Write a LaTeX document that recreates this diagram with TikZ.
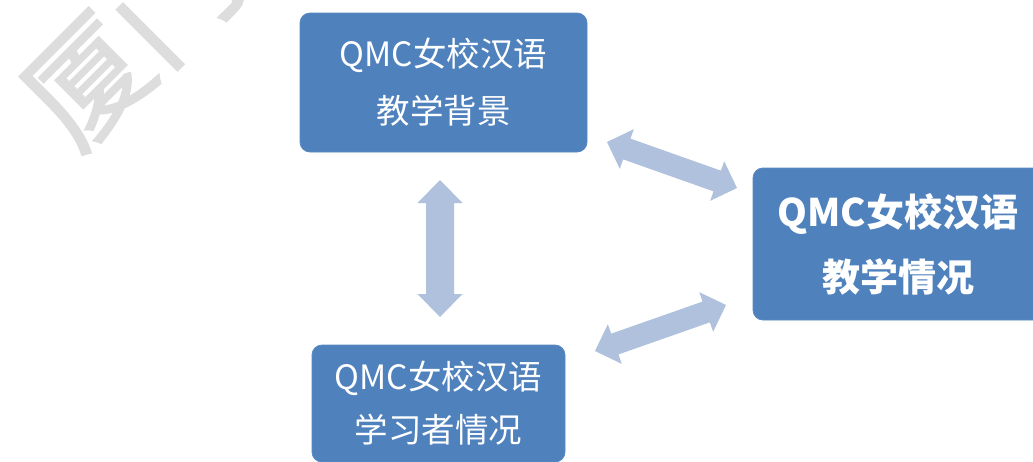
\documentclass[tikz,border=0pt]{standalone}
\usepackage{fontspec}
\newfontfamily\cjk{Noto Sans CJK SC}
\newfontfamily\wmfont{Noto Sans CJK SC}[FakeBold=1.5]
\usetikzlibrary{calc}
\definecolor{boxblue}{HTML}{4F81BD}
\definecolor{boxedge}{HTML}{5A8AC2}
\definecolor{arrowblue}{HTML}{AFC1DD}
\definecolor{wmgray}{HTML}{DDDDDD}
% fat double arrow: from, to, shaft half width, head half width, head length
\newcommand\fatarrow[5]{%
  \fill[arrowblue] (#1)
    -- ($(#1)!#5!(#2)!#4!90:(#2)$)
    -- ($(#1)!#5!(#2)!#3!90:(#2)$)
    -- ($(#2)!#5!(#1)!#3!-90:(#1)$)
    -- ($(#2)!#5!(#1)!#4!-90:(#1)$)
    -- (#2)
    -- ($(#2)!#5!(#1)!#4!90:(#1)$)
    -- ($(#2)!#5!(#1)!#3!90:(#1)$)
    -- ($(#1)!#5!(#2)!#3!-90:(#2)$)
    -- ($(#1)!#5!(#2)!#4!-90:(#2)$)
    -- cycle;}
\begin{document}
\begin{tikzpicture}[x=1pt,y=-1pt,
  box/.style={rectangle, rounded corners=10pt, fill=boxblue, draw=boxedge, line width=0.8pt,
    text=white, align=center, inner sep=0pt},
  wm/.style={text=wmgray, rotate=45, inner sep=0pt, font=\wmfont\fontsize{120pt}{120pt}\selectfont}]
\clip (0,0) rectangle (1033,461);
\fill[white] (0,0) rectangle (1033,461);
% watermark
\node[wm] (wm1) at (88,82) {厦};
\node[wm] (wm2) at (173,-3) {门};
% boxes
\node[box, minimum width=287pt, minimum height=139pt,
  font=\cjk\fontsize{33.5pt}{57pt}\selectfont] (bg) at (443.5,82.5) {QMC女校汉语\\教学背景};
\node[box, minimum width=290pt, minimum height=152pt,
  font=\cjk\bfseries\fontsize{38pt}{65pt}\selectfont] (sit) at (898,244) {QMC女校汉语\\教学情况};
\node[box, minimum width=253pt, minimum height=117pt,
  font=\cjk\fontsize{33.5pt}{53pt}\selectfont] (lrn) at (438.5,403.5) {QMC女校汉语\\学习者情况};
% arrow end points
\coordinate (a1s) at (607,142);
\coordinate (a1e) at (737,188);
\coordinate (a2s) at (440,180);
\coordinate (a2e) at (440,317);
\coordinate (a3s) at (595,351);
\coordinate (a3e) at (726,305);
\fatarrow{a1s}{a1e}{11pt}{21pt}{21pt}
\fatarrow{a2s}{a2e}{14pt}{22.5pt}{23pt}
\fatarrow{a3s}{a3e}{11pt}{21pt}{21pt}
\end{tikzpicture}
\end{document}
